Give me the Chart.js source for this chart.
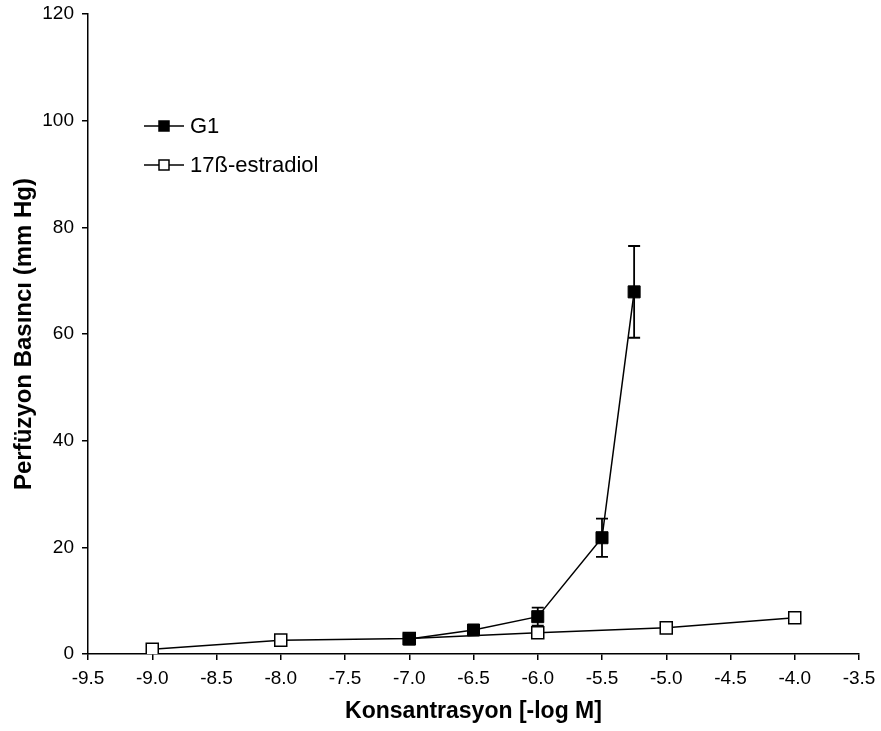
<!DOCTYPE html>
<html>
<head>
<meta charset="utf-8">
<script src="https://cdn.jsdelivr.net/npm/chart.js@4.4.1/dist/chart.umd.min.js"></script>
<style>
  html, body { margin: 0; padding: 0; background: #fff; }
  #wrap { width: 881px; height: 731px; position: relative; }
</style>
</head>
<body>
<div id="wrap"><canvas id="chart"></canvas></div>
<script>
'use strict';
// concentration (-log M) and perfusion pressure (mm Hg)
const g1X   = [-7.0, -6.5, -6.0, -5.5, -5.25];
const g1Y   = [2.8, 4.5, 7.0, 21.8, 67.9];
const g1Err = [0.4, 0.5, 1.7, 3.6, 8.6];

const e2X   = [-9.0, -8.0, -7.0, -6.0, -5.0, -4.0];
const e2Y   = [0.9, 2.6, 2.9, 4.0, 4.9, 6.8];

const xTicks = [-9.5, -9.0, -8.5, -8.0, -7.5, -7.0, -6.5, -6.0, -5.5, -5.0, -4.5, -4.0, -3.5];
const yTicks = [0, 20, 40, 60, 80, 100, 120];

const FONT = 'Liberation Sans, Arial, sans-serif';
const pts = (xs, ys) => xs.map((x, i) => ({ x, y: ys[i] }));

// SEM whiskers, drawn under the lines and markers
const errorBars = {
  id: 'errorBars',
  beforeDatasetsDraw(chart) {
    const { ctx, scales: { x, y } } = chart;
    ctx.save();
    ctx.strokeStyle = '#000';
    ctx.lineWidth = 1.8;
    g1X.forEach((v, i) => {
      const px = x.getPixelForValue(v);
      const top = y.getPixelForValue(g1Y[i] + g1Err[i]);
      const bot = y.getPixelForValue(g1Y[i] - g1Err[i]);
      ctx.beginPath();
      ctx.moveTo(px, top); ctx.lineTo(px, bot);
      ctx.moveTo(px - 6, top); ctx.lineTo(px + 6, top);
      ctx.moveTo(px - 6, bot); ctx.lineTo(px + 6, bot);
      ctx.stroke();
    });
    ctx.restore();
  }
};

// legend sits inside the plot, top-left
const insetLegend = {
  id: 'insetLegend',
  afterDraw(chart) {
    const { ctx } = chart;
    const rows = [126, 165];
    ctx.save();
    chart.data.datasets.forEach((ds, i) => {
      const yy = rows[i];
      ctx.strokeStyle = '#000';
      ctx.lineWidth = 1.5;
      ctx.beginPath();
      ctx.moveTo(144, yy); ctx.lineTo(184, yy);
      ctx.stroke();
      ctx.fillStyle = ds.pointBackgroundColor;
      ctx.fillRect(159, yy - 5, 10, 10);
      ctx.strokeRect(159, yy - 5, 10, 10);
      ctx.fillStyle = '#000';
      ctx.font = '22px ' + FONT;
      ctx.textBaseline = 'middle';
      ctx.fillText(ds.label, 190, yy + 1);
    });
    ctx.restore();
  }
};

const axisCommon = {
  border: { display: true, color: '#000', width: 1.5 },
  grid: { display: true, drawOnChartArea: false, drawTicks: true, tickLength: 6, color: '#000', lineWidth: 1.5 },
};

// keep the plot box fixed: tick labels may overhang the layout padding
const noOverhang = s => {
  s.paddingTop = 0; s.paddingBottom = 0; s.paddingLeft = 0; s.paddingRight = 0;
};

new Chart(document.getElementById('chart'), {
  type: 'line',
  data: {
    datasets: [
      {
        label: 'G1',
        data: pts(g1X, g1Y),
        borderColor: '#000', borderWidth: 1.5,
        pointStyle: 'rect', pointRadius: 8.5,
        pointBackgroundColor: '#000', pointBorderColor: '#000', pointBorderWidth: 1
      },
      {
        label: '17ß-estradiol',
        data: pts(e2X, e2Y),
        borderColor: '#000', borderWidth: 1.5,
        pointStyle: 'rect', pointRadius: 8.5,
        pointBackgroundColor: '#fff', pointBorderColor: '#000', pointBorderWidth: 1.5
      }
    ]
  },
  options: {
    responsive: true,
    maintainAspectRatio: false,
    animation: false,
    layout: { padding: { top: 14, right: 22, left: 0, bottom: 0 } },
    plugins: { legend: { display: false }, tooltip: { enabled: false } },
    scales: {
      x: {
        ...axisCommon,
        type: 'linear',
        min: xTicks[0], max: xTicks[xTicks.length - 1],
        afterBuildTicks: s => { s.ticks = xTicks.map(v => ({ value: v })); },
        afterFit: s => { s.height = 77; noOverhang(s); },
        ticks: { color: '#000', font: { family: FONT, size: 19 }, padding: 7, maxRotation: 0,
                 callback: v => v.toFixed(1) },
        title: { display: true, text: 'Konsantrasyon [-log M]', color: '#000',
                 font: { family: FONT, size: 23, weight: 'bold' }, padding: { top: 0, bottom: 6 } }
      },
      y: {
        ...axisCommon,
        type: 'linear',
        min: yTicks[0], max: yTicks[yTicks.length - 1],
        afterBuildTicks: s => { s.ticks = yTicks.map(v => ({ value: v })); },
        afterFit: s => { s.width = 88; noOverhang(s); },
        ticks: { color: '#000', font: { family: FONT, size: 19 }, padding: 8 },
        title: { display: true, text: 'Perfüzyon Basıncı (mm Hg)', color: '#000',
                 font: { family: FONT, size: 24, weight: 'bold' }, padding: { top: 10, bottom: 0 } }
      }
    }
  },
  plugins: [errorBars, insetLegend]
});
</script>
</body>
</html>
